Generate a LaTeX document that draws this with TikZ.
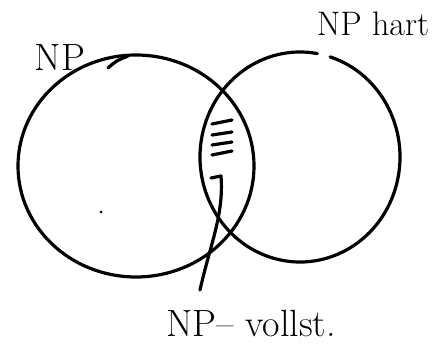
\documentclass[tikz,border=0pt]{standalone}
\usepackage{fontspec}
\tikzstyle{pen} = [%
					line width = 3.2,
					line cap = round,
					line join = round]
\tikzstyle{hand} = [%
					inner sep = 0pt,
					font = \fontsize{34}{40}\selectfont]

\begin{document}
\begin{tikzpicture}[x=1pt,y=-1pt]
	\useasboundingbox (0,0) rectangle (437,350);

	% Coordinates
	\coordinate (L)    at (136,166);
	\coordinate (R)    at (300,157);
	\coordinate (hook) at (211,178);
	\coordinate (bend) at (221,176);
	\coordinate (tail) at (200,290);

	% Nodes
	\node[hand, font=\fontsize{38}{44}\selectfont] (np) at (60,58) {NP};
	\node[hand] (nphart) at (373,24) {NP hart};
	\node[hand, font=\fontsize{38}{44}\selectfont] (npc) at (251,323) {NP– vollst.};

	% Sets
	\draw[pen] (L) ellipse [x radius=118, y radius=111];
	\draw[pen] (R) ++(287.5:100 and 105) arc [start angle=287.5, end angle=640, x radius=100, y radius=105];
	\draw[pen] (108,68) .. controls (116,61) .. (128,56);

	% Hatching of the intersection
	\foreach \a/\b in {124/120, 135/132, 145/142, 155/151}
		\draw[pen] (212,\a) -- (232,\b);

	% Pointer to label
	\draw[pen] (hook) -- (bend) .. controls (224,215) and (210,245) .. (tail);
	\fill (101,212) circle [radius=1.5];
\end{tikzpicture}
\end{document}
